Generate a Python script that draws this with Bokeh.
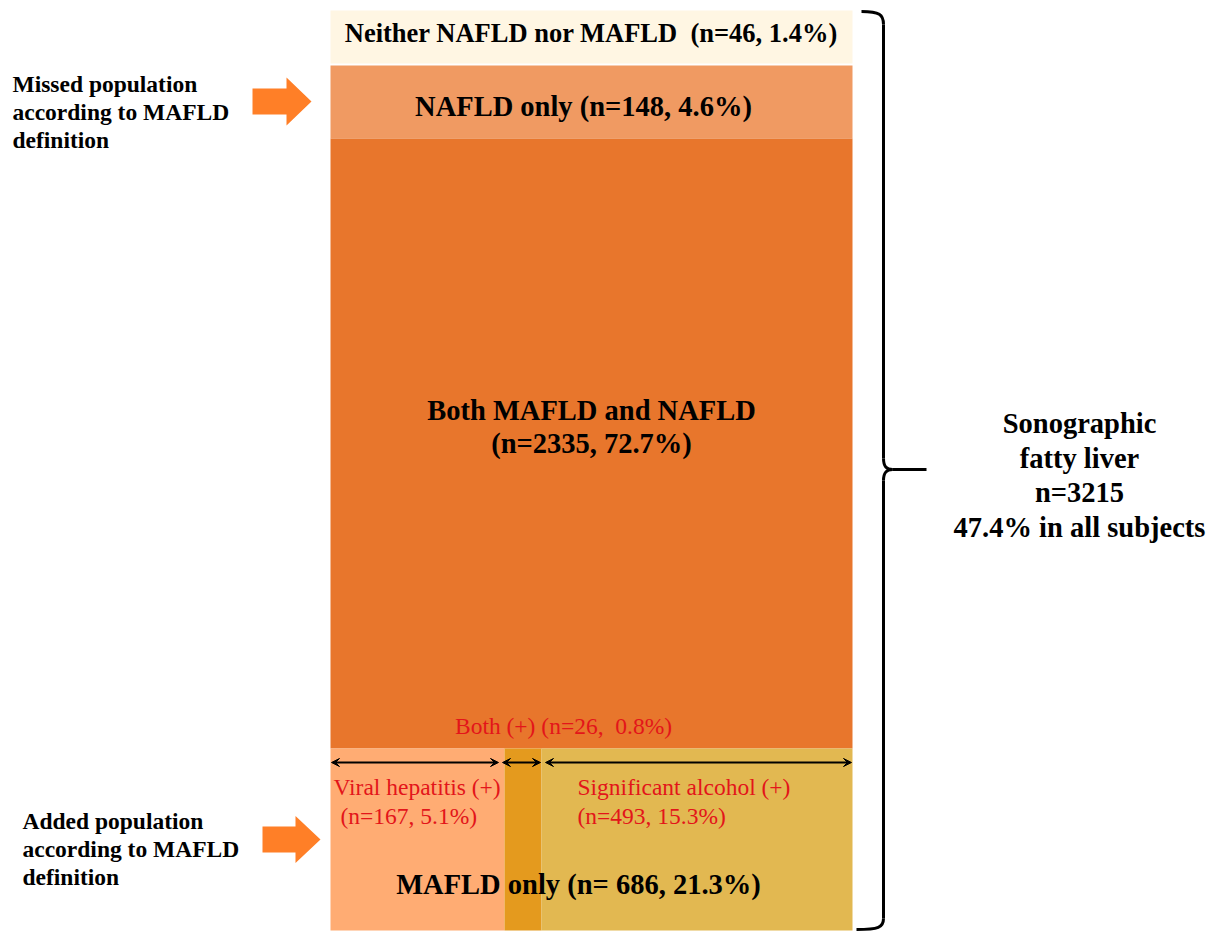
from bokeh.plotting import figure
from bokeh.models import Range1d, Arrow, VeeHead
from bokeh.core.properties import value
from bokeh.embed import file_html
from bokeh.resources import INLINE

# ---------------- data ----------------
groups = ["Neither NAFLD nor MAFLD", "NAFLD only", "Both MAFLD and NAFLD", "MAFLD only"]
group_n = [46, 148, 2335, 686]
group_pct = [1.4, 4.6, 72.7, 21.3]
sub_groups = ["Viral hepatitis (+)", "Both (+)", "Significant alcohol (+)"]
sub_n = [167, 26, 493]
sub_pct = [5.1, 0.8, 15.3]
total_label = "Sonographic"
total_label2 = "fatty liver"
total_n = 3215
total_pct = 47.4
side_labels = [["Missed population", "according to MAFLD", "definition"],
               ["Added population", "according to MAFLD", "definition"]]

# ---------------- layout (pixel-like diagram coordinates) ----------------
col_left, col_right = 330, 852
band_top = [10, 65, 138, 748]
band_bottom = [63, 138, 748, 930]
band_colors = ["#FFF6E3", "#F09A62", "#E8762C", None]
sub_left = [330, 504, 541]
sub_right = [504, 541, 852]
sub_colors = ["#FFAC73", "#E49A1E", "#E2B851"]
arrow_color = "#FF7F27"
red = "#E3151A"
FONT = value("'Liberation Serif', 'Times New Roman', serif")
NB2 = "\u00a0 "  # preserved double space

p = figure(width=1215, height=932, output_backend="svg", toolbar_location=None,
           x_range=Range1d(0, 1215), y_range=Range1d(932, 0),
           x_axis_type=None, y_axis_type=None, min_border=0,
           outline_line_color=None, background_fill_color="white")
p.grid.visible = False

# bands
for i in range(3):
    p.quad(left=col_left, right=col_right, top=band_top[i], bottom=band_bottom[i],
           fill_color=band_colors[i], line_color=None)
for i in range(3):
    p.quad(left=sub_left[i], right=sub_right[i], top=band_top[3], bottom=band_bottom[3],
           fill_color=sub_colors[i], line_color=None)

def t(x, y, s, size, color="black", bold=True, align="center"):
    p.text(x=[x], y=[y], text=[s], text_font=FONT, text_font_size=f"{size}px",
           text_font_style="bold" if bold else "normal", text_color=color,
           text_align=align, text_baseline="middle")

# main labels
t(591, 32, f"{groups[0]}{NB2}(n={group_n[0]}, {group_pct[0]}%)", 26.5)
t(583, 106, f"{groups[1]} (n={group_n[1]}, {group_pct[1]}%)", 28.5)
t(591, 410, groups[2], 28.5)
t(591, 443, f"(n={group_n[2]}, {group_pct[2]}%)", 28.5)
t(578, 884, f"{groups[3]} (n= {group_n[3]}, {group_pct[3]}%)", 28.5)

# red sub labels
t(563, 725, f"{sub_groups[1]} (n={sub_n[1]},{NB2}{sub_pct[1]}%)", 23.5, color=red, bold=False)
t(333, 786, sub_groups[0], 23.5, color=red, bold=False, align="left")
t(340, 815, f"(n={sub_n[0]}, {sub_pct[0]}%)", 23.5, color=red, bold=False, align="left")
t(577, 786, sub_groups[2], 23.5, color=red, bold=False, align="left")
t(577, 815, f"(n={sub_n[2]}, {sub_pct[2]}%)", 23.5, color=red, bold=False, align="left")

# double-headed span arrows
for (x0, x1) in [(331, 498), (502, 540), (545, 851)]:
    p.add_layout(Arrow(x_start=x0, x_end=x1, y_start=762, y_end=762, line_width=2,
                       line_color="black",
                       start=VeeHead(size=8, fill_color="black", line_color="black"),
                       end=VeeHead(size=8, fill_color="black", line_color="black")))

# side labels
for j, (x0, y0) in enumerate([(12, 83), (22, 820)]):
    for k, s in enumerate(side_labels[j]):
        t(x0, y0 + 28 * k, s, 23.5, align="left")

# block arrows
def block_arrow(x0, xm, x1, yc, body_h, head_h):
    xs = [x0, xm, xm, x1, xm, xm, x0]
    ys = [yc - body_h / 2, yc - body_h / 2, yc - head_h / 2, yc, yc + head_h / 2,
          yc + body_h / 2, yc + body_h / 2]
    p.patch(xs, ys, fill_color=arrow_color, line_color=None)

block_arrow(252, 286, 311, 101, 26, 48)
block_arrow(262, 295, 320, 839, 26, 47)

# curly brace
bx = 883
p.bezier(x0=[861, bx, 892, bx], y0=[11, 458, 469, 918],
         x1=[bx, 892, bx, 856], y1=[24, 469, 480, 929],
         cx0=[879, bx, 886, bx], cy0=[11, 466, 469, 927],
         cx1=[bx, 886, bx, 878], cy1=[14, 469, 472, 929],
         line_color="black", line_width=3)
p.segment(x0=[bx, bx, 892], y0=[24, 480, 469], x1=[bx, bx, 926], y1=[458, 918, 469],
          line_color="black", line_width=3)

# total label
for k, s in enumerate([total_label, total_label2, f"n={total_n}", f"{total_pct}% in all subjects"]):
    t(1079, 423 + 34.5 * k, s, 28.5)

open("out.html", "w").write(file_html(p, INLINE))
